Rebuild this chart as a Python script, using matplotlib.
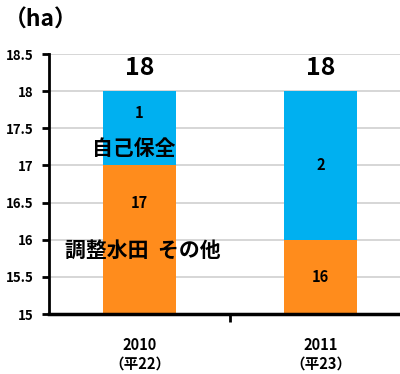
import matplotlib.pyplot as plt

plt.rcParams['font.family'] = ['Noto Sans CJK JP', 'DejaVu Sans']

# 作付面積の内訳（ha）
years = ['2010\n（平22）', '2011\n（平23）']
sonota = [17, 16]      # 調整水田 その他
jiko_hozen = [1, 2]    # 自己保全
totals = [a + b for a, b in zip(sonota, jiko_hozen)]

ORANGE = '#FF8C1C'
BLUE = '#00B0F0'

fig = plt.figure(figsize=(4.0, 3.74), dpi=100)
ax = fig.add_axes([49 / 400, 1 - 314 / 374, 362 / 400, 260 / 374])

x = range(len(years))
ax.bar(x, sonota, width=0.4, color=ORANGE, zorder=2)
ax.bar(x, jiko_hozen, width=0.4, bottom=sonota, color=BLUE, zorder=2)

ymin, ymax = 15, 18.5
ax.set_ylim(ymin, ymax)
ax.set_xlim(-0.5, 1.5)
ax.set_yticks([15, 15.5, 16, 16.5, 17, 17.5, 18, 18.5])
ax.set_yticklabels(['15', '15.5', '16', '16.5', '17', '17.5', '18', '18.5'])
ax.yaxis.grid(True, color='#D0D0D0', linewidth=1.2, zorder=0)
ax.set_axisbelow(True)

ax.set_xticks([0.5])
ax.set_xticklabels([''])
for i, lab in enumerate(years):
    ax.text(i, 14.69, lab, ha='center', va='top', fontsize=10.5,
            fontweight='bold', linespacing=1.2)

for side in ['top', 'right']:
    ax.spines[side].set_visible(False)
ax.spines['left'].set_linewidth(2)
ax.spines['bottom'].set_linewidth(2.5)
ax.tick_params(axis='y', length=5, width=2, labelsize=9.5, pad=6)
ax.tick_params(axis='x', length=6, width=2)
for t in ax.get_yticklabels():
    t.set_fontweight('bold')

# セグメント内の数値
nudge_low = [0.5, 0.0]
nudge_high = [0.2, 0.0]
for i in x:
    lo = max(ymin, 0)
    ax.text(i, (lo + sonota[i]) / 2 + nudge_low[i], str(sonota[i]),
            ha='center', va='center', fontsize=10.5, fontweight='bold')
    ax.text(i, sonota[i] + jiko_hozen[i] / 2 + nudge_high[i], str(jiko_hozen[i]),
            ha='center', va='center', fontsize=10.5, fontweight='bold')
    ax.annotate(str(totals[i]), (i, totals[i]), xytext=(0, 17),
                textcoords='offset points', ha='center', va='center',
                fontsize=18, fontweight='bold')

ax.text(-0.03, 17.23, '自己保全', ha='center', va='center',
        fontsize=15, fontweight='bold')
ax.text(0.02, 15.85, '調整水田  その他', ha='center', va='center',
        fontsize=15, fontweight='bold')

fig.text(4 / 400, 1 - 20 / 374, '（ha）', ha='left', va='center',
         fontsize=16.5, fontweight='bold')

fig.savefig('out.png', dpi=100)
